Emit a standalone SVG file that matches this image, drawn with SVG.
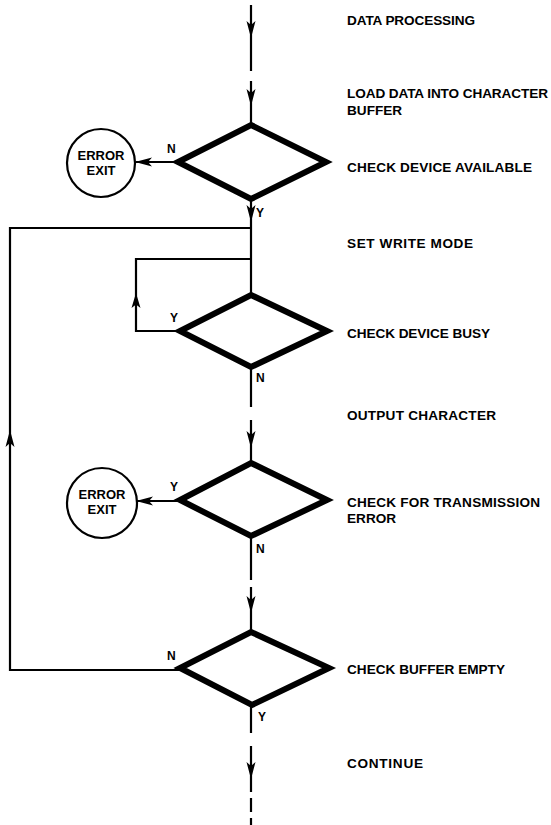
<svg xmlns="http://www.w3.org/2000/svg" width="551" height="825" viewBox="0 0 551 825">
<style>
.dia{fill:none;stroke:#000;stroke-width:6;stroke-linejoin:miter}
.ln{fill:none;stroke:#000;stroke-width:2.2}
.ah{fill:#000;stroke:none}
.circ{fill:#fff;stroke:#000;stroke-width:2.2}
.lbl{font-family:"Liberation Sans",Arial,sans-serif;font-weight:bold;font-size:13.6px;fill:#000}
.ctext{font-family:"Liberation Sans",Arial,sans-serif;font-weight:bold;font-size:13px;fill:#000;text-anchor:middle}
.yn{font-family:"Liberation Sans",Arial,sans-serif;font-weight:bold;font-size:12px;fill:#000}
</style>
<defs>
<path id="adown" d="M0,0 L-4.5,-17 L0,-13 L4.5,-17 Z"/>
</defs>
<rect width="551" height="825" fill="#fff"/>
<g id="connectors">
<path class="ln" d="M251,5 V71 M251,81 V125"/>
<use href="#adown" class="ah" x="251" y="38"/>
<use href="#adown" class="ah" x="251" y="106"/>
<path class="ln" d="M178,162 H136"/>
<polygon class="ah" points="135,162 152,157.5 148,162 152,166.5"/>
<path class="ln" d="M251,198 V295"/>
<use href="#adown" class="ah" x="251" y="222"/>
<path class="ln" d="M251,228 H10 V670 H180"/>
<polygon class="ah" points="10,430 5.5,447 10,443 14.5,447"/>
<path class="ln" d="M180,331 H136 V259 H251"/>
<polygon class="ah" points="136,293 131.5,308 136,304.5 140.5,308"/>
<path class="ln" d="M251,366 V407 M251,420 V463"/>
<use href="#adown" class="ah" x="251" y="448"/>
<path class="ln" d="M180,501 H137"/>
<polygon class="ah" points="136,501 153,496.5 149,501 153,505.5"/>
<path class="ln" d="M251,535 V580 M251,587 V632"/>
<use href="#adown" class="ah" x="251" y="613"/>
<path class="ln" d="M251,705 V733 M251,746 V792 M251,798 V812 M251,818 V825"/>
<use href="#adown" class="ah" x="251" y="779"/>
</g>
<g id="data-processing"><text class="lbl" x="347" y="25" textLength="128" lengthAdjust="spacing">DATA PROCESSING</text></g>
<g id="load-data"><text class="lbl" x="347" y="98" textLength="201" lengthAdjust="spacing">LOAD DATA INTO CHARACTER</text><text class="lbl" x="347" y="115">BUFFER</text></g>
<g id="check-available">
<polygon class="dia" points="251,125 326,162 251,199 178,162"/>
<text class="lbl" x="347" y="172" textLength="185" lengthAdjust="spacing">CHECK DEVICE AVAILABLE</text>
<text class="yn" x="167" y="153">N</text>
<text class="yn" x="256" y="217">Y</text>
</g>
<g id="error-exit-1">
<circle class="circ" cx="101" cy="163" r="34"/>
<text class="ctext" x="101" y="160">ERROR</text>
<text class="ctext" x="101" y="175">EXIT</text>
</g>
<g id="set-write-mode"><text class="lbl" x="347" y="248" textLength="126" lengthAdjust="spacing">SET WRITE MODE</text></g>
<g id="check-busy">
<polygon class="dia" points="251,295 327,331 251,367 180,331"/>
<text class="lbl" x="347" y="338" textLength="143" lengthAdjust="spacing">CHECK DEVICE BUSY</text>
<text class="yn" x="170" y="322">Y</text>
<text class="yn" x="256" y="382">N</text>
</g>
<g id="output-character"><text class="lbl" x="347" y="420" textLength="149" lengthAdjust="spacing">OUTPUT CHARACTER</text></g>
<g id="check-transmission">
<polygon class="dia" points="251,463 327,500 251,536 180,500"/>
<text class="lbl" x="347" y="507" textLength="193" lengthAdjust="spacing">CHECK FOR TRANSMISSION</text>
<text class="lbl" x="347" y="523">ERROR</text>
<text class="yn" x="170" y="491">Y</text>
<text class="yn" x="256" y="553">N</text>
</g>
<g id="error-exit-2">
<circle class="circ" cx="102" cy="503" r="35"/>
<text class="ctext" x="102" y="499">ERROR</text>
<text class="ctext" x="102" y="514">EXIT</text>
</g>
<g id="check-buffer-empty">
<polygon class="dia" points="251,632 329,668 252,705 180,668"/>
<text class="lbl" x="347" y="674" textLength="158" lengthAdjust="spacing">CHECK BUFFER EMPTY</text>
<text class="yn" x="167" y="660">N</text>
<text class="yn" x="258" y="721">Y</text>
</g>
<g id="continue"><text class="lbl" x="347" y="768" textLength="76" lengthAdjust="spacing">CONTINUE</text></g>
</svg>
